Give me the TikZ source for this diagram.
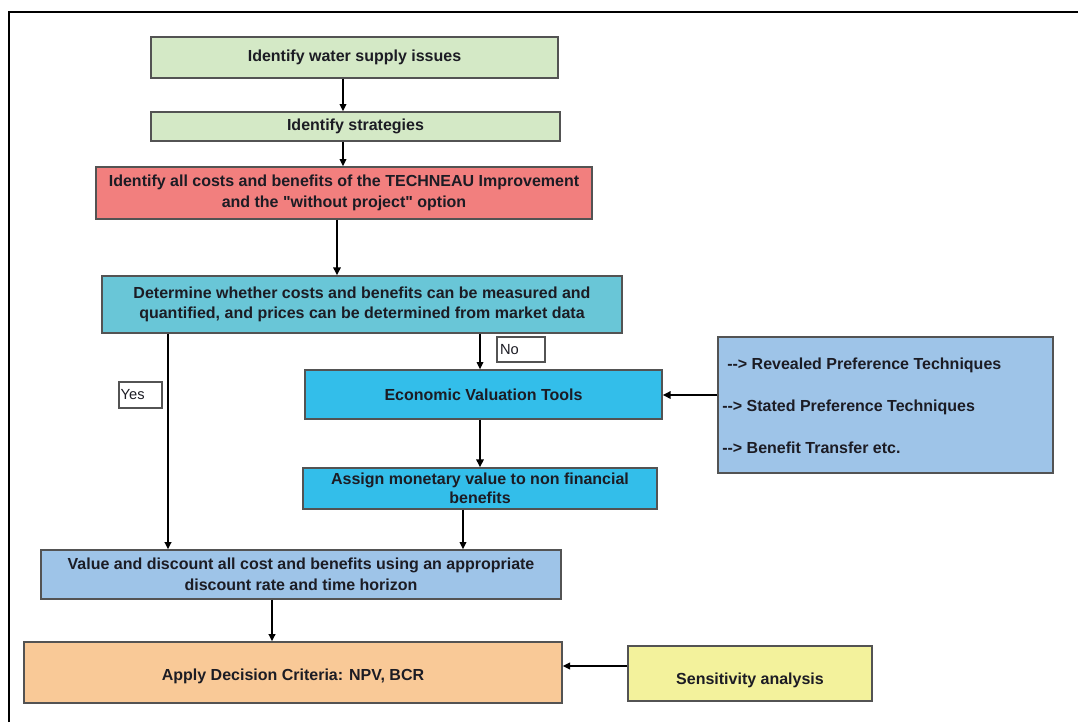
\documentclass[tikz,border=0pt]{standalone}
\usepackage{fontspec}
\setmainfont{Liberation Sans}[Ligatures=TeXOff]
\usetikzlibrary{arrows.meta}
\definecolor{cgreen}{HTML}{D4E9C6}
\definecolor{cred}{HTML}{F27F7E}
\definecolor{cteal}{HTML}{69C6D7}
\definecolor{ccyan}{HTML}{33BEEA}
\definecolor{csteel}{HTML}{9EC4E8}
\definecolor{cpeach}{HTML}{F9C997}
\definecolor{cyellow}{HTML}{F3F29C}
\definecolor{cline}{HTML}{535353}
\definecolor{ctxt}{HTML}{1C1C24}
\tikzset{
  corners/.style args={#1/#2/#3/#4}{minimum width={(#3-#1)*0.75pt}, minimum height={(#4-#2)*0.75pt},
    at={({(#1+#3)/2},{-(#2+#4)/2})}},
  box/.style={draw=cline, line width=1pt, inner sep=0pt, align=center, text=ctxt,
    font=\bfseries\fontsize{12}{15.5}\selectfont},
  tagbox/.style={draw=cline, line width=0.8pt, inner sep=0pt, fill=white},
  tagtxt/.style={font=\fontsize{11}{13}\selectfont, text=ctxt, inner sep=0pt, anchor=west},
  listtxt/.style={font=\bfseries\fontsize{12}{15}\selectfont, text=ctxt, inner sep=0pt, anchor=west},
  arr/.style={draw=black, line width=1.2pt, -{Triangle[length=5.5pt,width=5pt]}},
  arrthick/.style={draw=black, line width=2pt, -{Triangle[length=6pt,width=5.5pt]}},
}
\begin{document}
\begin{tikzpicture}[x=0.75pt,y=0.75pt]
\useasboundingbox (0,-722) rectangle (1078,0);
\fill[white] (0,-722) rectangle (1078,0);
% frame
\coordinate (f1) at (9,-722);
\coordinate (f2) at (9,-12);
\coordinate (f3) at (1078,-12);
\draw[line width=1.6pt] (f1) -- (f2) -- (f3);

% boxes
\node[box, fill=cgreen, corners=151/37/558/78] (b1) {Identify water supply issues};
\node[box, fill=cgreen, corners=151/112/560/141] (b2) {Identify strategies};
\node[box, fill=cred, corners=96/167/592/219] (b3) {Identify all costs and benefits of the TECHNEAU Improvement\\and the "without project" option};
\node[box, fill=cteal, corners=102/276/622/333] (b4) {Determine whether costs and benefits can be measured and\\quantified, and prices can be determined from market data};
\node[box, fill=ccyan, corners=305/370/662/419] (econ) {Economic Valuation Tools};
\node[box, fill=ccyan, corners=303/468/657/509] (assign) {\raisebox{-1.5pt}{Assign monetary value to non financial}\\benefits};
\node[box, fill=csteel, corners=718/337/1053/473] (tools) {};
\node[listtxt] (t1) at (727,-365) {--> Revealed Preference Techniques};
\node[listtxt] (t2) at (722,-407) {--> Stated Preference Techniques};
\node[listtxt] (t3) at (722,-448) {--> Benefit Transfer etc.};
\node[box, fill=csteel, corners=41/550/561/599] (value) {Value and discount all cost and benefits using an appropriate\\discount rate and time horizon};
\node[box, fill=cpeach, corners=24/642/562/703] (apply) {\raisebox{-6pt}[0pt][0pt]{Apply Decision Criteria: NPV, BCR}};
\node[box, fill=cyellow, corners=628/646/872/701] (sens) {\raisebox{-8pt}[0pt][0pt]{Sensitivity analysis}};

% tags
\node[tagbox, corners=497/337/545/362] (no) {};
\node[tagtxt] (notxt) at ([xshift=2.5pt]no.west) {No};
\node[tagbox, corners=119/382/162/408] (yes) {};
\node[tagtxt] (yestxt) at ([xshift=1.5pt]yes.west) {Yes};

% guide coordinates
\coordinate (x343) at (343,0);
\coordinate (x337) at (337,0);
\coordinate (x480) at (480,0);
\coordinate (x463) at (463,0);
\coordinate (x168) at (168,0);
\coordinate (x272) at (272,0);
\coordinate (y395) at (0,-395);
\coordinate (y666) at (0,-666);

% connectors
\draw[arr] (b1.south -| x343) -- (b2.north -| x343);
\draw[arr] (b2.south -| x343) -- (b3.north -| x343);
\draw[arrthick] (b3.south -| x337) -- (b4.north -| x337);
\draw[arr, line width=0.9pt] (b4.south -| x480) -- (econ.north -| x480);
\draw[arrthick] (tools.west |- y395) -- (econ.east |- y395);
\draw[arrthick] (econ.south -| x480) -- (assign.north -| x480);
\draw[arr] (assign.south -| x463) -- (value.north -| x463);
\draw[arr, line width=1.6pt] (b4.south -| x168) -- (value.north -| x168);
\draw[arr, line width=1.6pt] (value.south -| x272) -- (apply.north -| x272);
\draw[arr] (sens.west |- y666) -- (apply.east |- y666);
\end{tikzpicture}
\end{document}
